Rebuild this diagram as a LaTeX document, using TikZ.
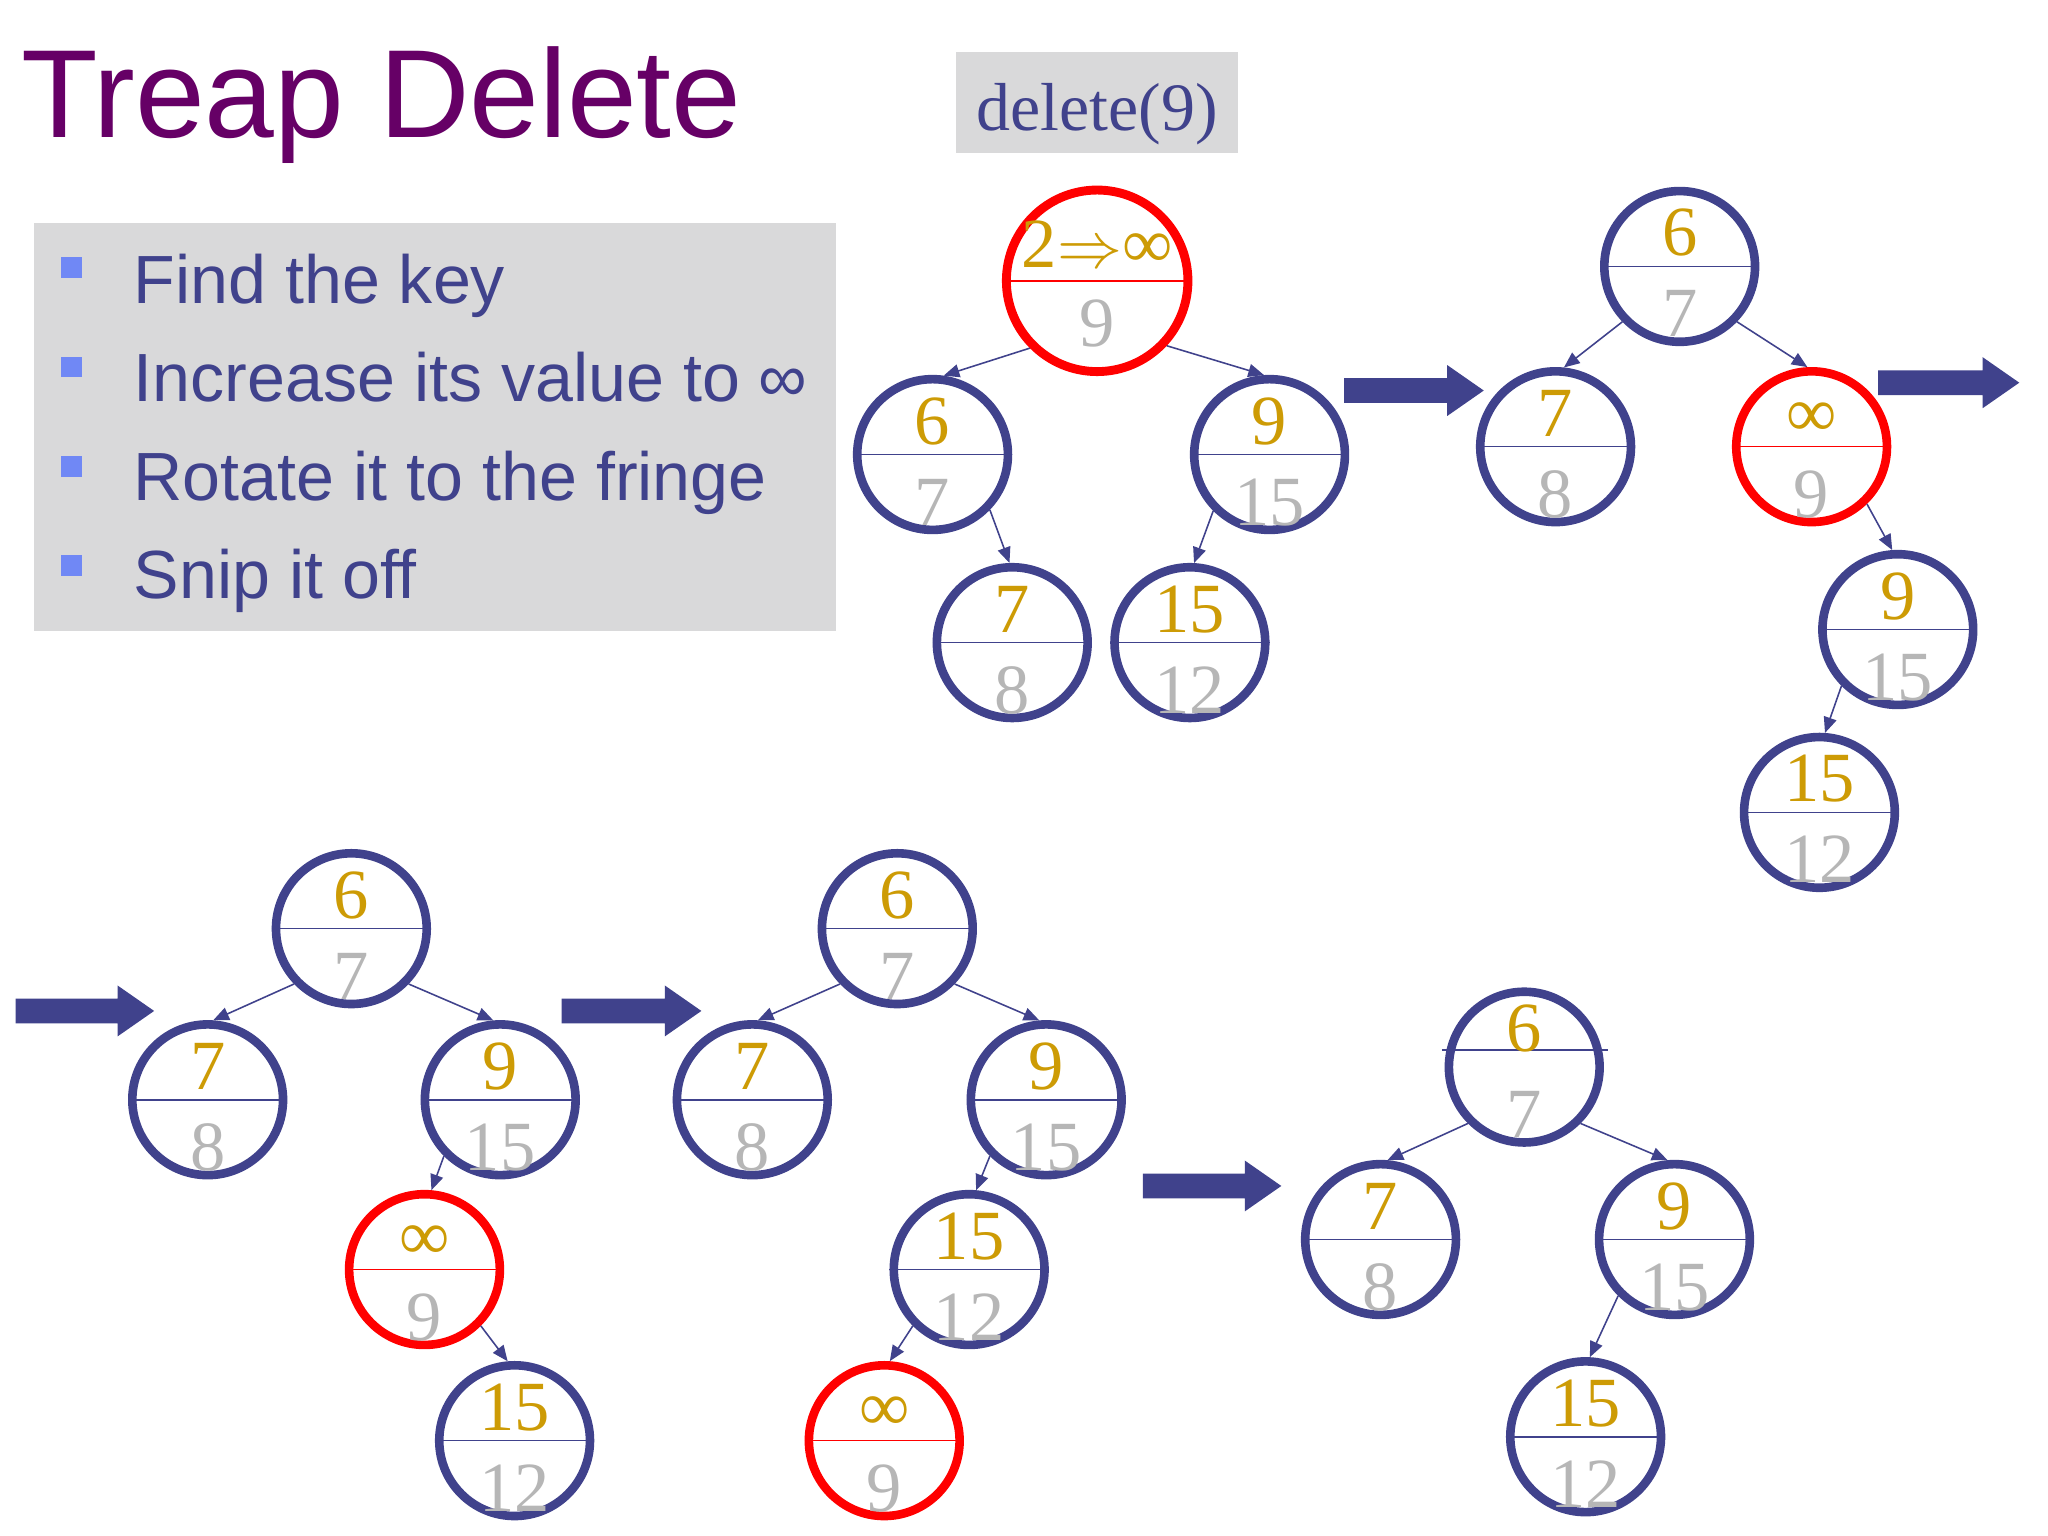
\documentclass[tikz,border=0pt]{standalone}
\usepackage{fontspec}
\setmainfont{Liberation Serif}
\newfontfamily\arialfont{Liberation Sans}
\usetikzlibrary{arrows.meta,calc}
\definecolor{tblue}{RGB}{64,66,140}
\definecolor{tred}{RGB}{255,0,0}
\definecolor{tgold}{RGB}{205,155,5}
\definecolor{tgray}{RGB}{182,182,182}
\definecolor{tpurple}{RGB}{102,0,102}
\definecolor{boxgray}{RGB}{217,217,218}
\definecolor{bulletblue}{RGB}{112,136,245}
\tikzset{
  tn/.style={circle, draw=tblue, line width=3.3pt, minimum size=57.7pt, inner sep=0pt},
  keytxt/.style={text=tgold, font=\fontsize{27}{27}\selectfont, anchor=base, inner sep=0pt},
  priotxt/.style={text=tgray, font=\fontsize{27}{27}\selectfont, anchor=base, inner sep=0pt},
  edge/.style={draw=tblue, line width=0.6pt, -{Triangle[length=6pt,width=5pt]}},
  bullettxt/.style={text=tblue, font=\arialfont\fontsize{26.1}{26.1}\selectfont, anchor=base west, inner sep=0pt},
  bulletsq/.style={fill=bulletblue, draw=none, minimum size=8pt, inner sep=0pt},
  graybox/.style={fill=boxgray, draw=none}
}
% name, x, y, key, prio, colour
\newcommand\treapnode[6]{%
  \node[tn, draw=#6] (#1) at (#2,#3) {};
  \draw[#6, line width=0.6pt] (#1.west) -- (#1.east);
  \node[keytxt] (#1k) at (#2,#3-8) {#4};
  \node[priotxt] (#1p) at (#2,#3+54) {#5};
}
% x0, x1, yc
\newcommand\blockarrow[3]{%
  \fill[tblue] (#1,#3-9.5) -- (#2-28,#3-9.5) -- (#2-28,#3-19.5) -- (#2,#3)
    -- (#2-28,#3+19.5) -- (#2-28,#3+9.5) -- (#1,#3+9.5) -- cycle;
}
\begin{document}
\begin{tikzpicture}[x=0.5pt,y=-0.5pt]
\useasboundingbox (0,0) rectangle (1568,1176);
\fill[white] (0,0) rectangle (1568,1176);

% title
\node[anchor=base west, text=tpurple, font=\arialfont\fontsize{48}{48}\selectfont, inner sep=0pt] (title) at (16,105) {Treap Delete};

% delete(9) box
\node[graybox, minimum width=108pt, minimum height=38.5pt, inner sep=0pt] (delbox) at (840,78.5) {};
\node[anchor=base, text=tblue, font=\fontsize{26}{26}\selectfont, inner sep=0pt] (deltxt) at (840,100) {delete(9)};

% bullet box
\node[graybox, anchor=north west, minimum width=307pt, minimum height=156.5pt, inner sep=0pt] (bbox) at (26,170) {};
\node[bulletsq] (b1) at (55,205) {};
\node[bulletsq] (b2) at (55,281) {};
\node[bulletsq] (b3) at (55,357) {};
\node[bulletsq] (b4) at (55,433) {};
\node[bullettxt] (t1) at (102,232) {Find the key};
\node[bullettxt] (t2) at (102,307.5) {Increase its value to ∞};
\node[bullettxt] (t3) at (102,383) {Rotate it to the fringe};
\node[bullettxt] (t4) at (102,458.5) {Snip it off};

% ---- tree 1
\node[tn, draw=tred, line width=3.4pt, minimum size=69.5pt] (R1) at (840,215) {};
\draw[tred, line width=0.6pt] (R1.west) -- (R1.east);
\node[keytxt] (R1k) at (840,205) {2$\Rightarrow$∞};
\node[priotxt] (R1p) at (840,265) {9};
\treapnode{A1}{714}{348}{6}{7}{tblue}
\treapnode{B1}{972}{348}{9}{15}{tblue}
\treapnode{C1}{775}{492}{7}{8}{tblue}
\treapnode{D1}{911}{492}{15}{12}{tblue}
\draw[edge] (R1.225) -- (A1.82);
\draw[edge] (R1.317) -- (B1.94);
\draw[edge] (A1.316) -- (C1.92);
\draw[edge] (B1.225) -- (D1.87);

\blockarrow{1029}{1136}{299}

% ---- tree 2
\treapnode{P2}{1286}{204}{6}{7}{tblue}
\treapnode{A2}{1191}{342}{7}{8}{tblue}
\treapnode{R2}{1387}{342}{∞}{9}{tred}
\treapnode{B2}{1453}{482}{9}{15}{tblue}
\treapnode{C2}{1393}{622}{15}{12}{tblue}
\draw[edge] (P2.224) -- (A2.84);
\draw[edge] (P2.316) -- (R2.93);
\draw[edge] (R2.314) -- (B2.94);
\draw[edge] (B2.225) -- (C2.86);

\blockarrow{1438}{1546}{293}

% ---- tree 3
\blockarrow{12}{118}{774}
\treapnode{P3}{269}{711}{6}{7}{tblue}
\treapnode{A3}{159}{842}{7}{8}{tblue}
\treapnode{B3}{383}{842}{9}{15}{tblue}
\treapnode{R3}{325}{972}{∞}{9}{tred}
\treapnode{C3}{394}{1103}{15}{12}{tblue}
\draw[edge] (P3.224) -- (A3.86);
\draw[edge] (P3.316) -- (B3.95);
\draw[edge] (B3.225) -- (R3.85);
\draw[edge] (R3.315) -- (C3.95);

% ---- tree 4
\blockarrow{430}{537}{774}
\treapnode{P4}{687}{711}{6}{7}{tblue}
\treapnode{A4}{576}{842}{7}{8}{tblue}
\treapnode{B4}{801}{842}{9}{15}{tblue}
\treapnode{C4}{742}{972}{15}{12}{tblue}
\treapnode{R4}{677}{1103}{∞}{9}{tred}
\draw[edge] (P4.224) -- (A4.86);
\draw[edge] (P4.316) -- (B4.95);
\draw[edge] (B4.225) -- (C4.85);
\draw[edge] (C4.225) -- (R4.86);

% ---- tree 5
\blockarrow{875}{981}{908}
\node[tn] (P5) at (1167,817) {};
\draw[tblue, line width=0.6pt] (1104,804) -- (1231,804);
\node[keytxt] (P5k) at (1167,805) {6};
\node[priotxt] (P5p) at (1167,871) {7};
\treapnode{A5}{1057}{949}{7}{8}{tblue}
\treapnode{B5}{1282}{949}{9}{15}{tblue}
\treapnode{C5}{1214}{1100}{15}{12}{tblue}
\draw[edge] (P5.225) -- (A5.85);
\draw[edge] (P5.315) -- (B5.95);
\draw[edge] (B5.225) -- (C5.87);
\end{tikzpicture}
\end{document}
